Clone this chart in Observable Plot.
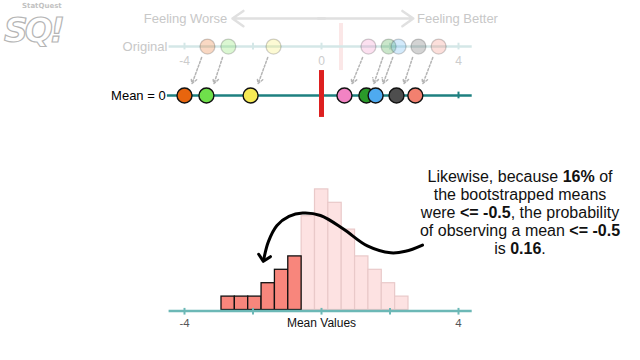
<!DOCTYPE html>
<html>
<head>
<meta charset="utf-8">
<script src="https://cdn.jsdelivr.net/npm/d3@7"></script>
<script src="https://cdn.jsdelivr.net/npm/@observablehq/plot@0.6"></script>
<style>
  html, body { margin: 0; padding: 0; background: #fff; }
  #wrap { position: relative; width: 640px; height: 360px; overflow: hidden; font-family: "Liberation Sans", Arial, Helvetica, sans-serif; }
  #note { position: absolute; left: 400px; top: 168px; width: 240px; text-align: center; font-size: 16px; line-height: 18px; color: #111; white-space: nowrap; }
  #logo .big { position: absolute; left: 4px; top: 14px; font: italic 900 33px/1 "DejaVu Sans", sans-serif; color: #fff; -webkit-text-stroke: 1.2px #b5b5b5; letter-spacing: -3px; }
  #logo .small { position: absolute; left: 22px; top: 3px; font: bold 7px/1 "DejaVu Sans", sans-serif; color: #c2c2c2; }
</style>
</head>
<body>
<div id="wrap">
  <div id="chart"></div>
  <div id="logo"><span class="small">StatQuest</span><span class="big">SQ!</span></div>
  <div id="note">Likewise, because <b>16%</b> of<br>the bootstrapped means<br>were <b>&lt;= -0.5</b>, the probability<br>of observing a mean <b>&lt;= -0.5</b><br>is <b>0.16</b>.</div>
</div>
<script>
// ---- data ----
const pointColors = ["#e8650e", "#6fe04b", "#f6ea55", "#f283c3", "#2a9a2a", "#4eaaf0", "#4e4e4e", "#f2806f"];
const originalValues = [-3.33, -2.72, -1.40, 1.37, 1.96, 2.25, 2.83, 3.42];
const shiftedValues  = [-4.00, -3.36, -2.07, 0.67, 1.31, 1.58, 2.19, 2.74];
const originalMean = 0.57;
const axisTicks = [-4, -2, 0, 2, 4];
const tickLabels = [-4, 0, 4];
const binStart = -2.92;
const binWidth = 0.39;
const binCounts = [1, 1, 1, 2, 3, 4, 7, 9, 8, 6, 4, 3, 2, 1];
const redBins = 6;
const headerLabels = ["Feeling Worse", "Feeling Better"];
const headerLabelX = [-3.97, 3.97];
// annotation arrow path (x in mean units, y in histogram counts)
const curveX = [2.95, 2.45, 2.02, 1.34, 0.64, -0.03, -0.55, -0.95, -1.30, -1.55, -1.68];
const curveY = [4.85, 4.38, 4.27, 4.78, 6.04, 7.05, 7.23, 6.98, 6.30, 5.10, 3.85];

// ---- layout rows (in count units of the y scale) ----
const ROW_HEADER = 21.75, ROW_ORIG = 19.66, ROW_ORIG_LABEL = 18.55;
const ROW_MEAN = 16.01, ROW_AXIS = -0.08, ROW_AXIS_LABEL = -1.0;

const bins = binCounts.map((c, i) => ({
  x1: binStart + i * binWidth, x2: binStart + (i + 1) * binWidth, count: c, red: i < redBins
}));
const pts = originalValues.map((v, i) => ({orig: v, shifted: shiftedValues[i], color: pointColors[i]}));
const curve = curveX.map((x, i) => ({x, y: curveY[i]}));
const ticksRows = (row, up, down) => axisTicks.map(t => ({x: t, y1: row - down, y2: row + up}));

const chart = Plot.plot({
  width: 640, height: 360,
  marginTop: 0, marginRight: 0, marginBottom: 0, marginLeft: 0,
  x: {domain: [-4, 4], range: [184, 458], axis: null},
  y: {domain: [0, 10], range: [309.5, 175.5], axis: null},
  style: {fontFamily: "'Liberation Sans', Arial, Helvetica, sans-serif", background: "transparent"},
  marks: [
    // header
    Plot.text(headerLabels, {x: (d, i) => headerLabelX[i], y: ROW_HEADER, text: d => d, fill: "#c8c8c8", fontSize: 13}),
    Plot.arrow([{a: 0.1, b: -2.6}, {a: -0.1, b: 2.68}], {x1: "a", x2: "b", y1: ROW_HEADER, y2: ROW_HEADER, stroke: "#e0e0e0", strokeWidth: 2.5, headLength: 8, headAngle: 70}),
    // original mean marker (faded)
    Plot.ruleX([originalMean], {y1: 17.87, y2: 21.38, stroke: "#fbe7e7", strokeWidth: 4}),
    // original line
    Plot.ruleY([ROW_ORIG], {x1: -4.45, x2: 4.4, stroke: "#d4e7e7", strokeWidth: 2.5}),
    Plot.ruleX(ticksRows(ROW_ORIG, 0.25, 0.25), {x: "x", y1: "y1", y2: "y2", stroke: "#d4e7e7", strokeWidth: 2}),
    Plot.text(tickLabels, {x: d => d, y: ROW_ORIG_LABEL, text: d => String(d), fill: "#cccccc", fontSize: 12}),
    Plot.text(["Original"], {x: -4.5, y: ROW_ORIG, text: d => d, textAnchor: "end", fill: "#c8c8c8", fontSize: 13}),
    Plot.dot(pts, {x: "orig", y: ROW_ORIG, r: 7.5, fill: "color", fillOpacity: 0.25, stroke: "#000", strokeOpacity: 0.18, strokeWidth: 1.3}),
    // dotted shift arrows
    Plot.arrow(pts, {x1: d => d.orig - 0.17, y1: 18.84, x2: d => d.shifted + 0.22, y2: 16.9, stroke: "#b5b5b5", strokeWidth: 1.5, strokeDasharray: "2,2", headLength: 6}),
    // mean = 0 line
    Plot.ruleY([ROW_MEAN], {x1: -4.5, x2: 4.4, stroke: "#1e8080", strokeWidth: 2.5}),
    Plot.ruleX(ticksRows(ROW_MEAN, 0.25, 0.25), {x: "x", y1: "y1", y2: "y2", stroke: "#1e8080", strokeWidth: 2}),
    Plot.ruleX([0], {y1: 14.37, y2: 17.87, stroke: "#dd2020", strokeWidth: 5}),
    Plot.dot(pts, {x: "shifted", y: ROW_MEAN, r: 7.5, fill: "color", stroke: "#111", strokeWidth: 1.4}),
    Plot.text(["Mean = 0"], {x: -4.55, y: ROW_MEAN, text: d => d, textAnchor: "end", fill: "#000", fontSize: 13}),
    // histogram
    Plot.rectY(bins.filter(d => !d.red), {x1: "x1", x2: "x2", y: "count", fill: "#fde2e2", stroke: "#e9c9c9", strokeWidth: 1.2}),
    Plot.rectY(bins.filter(d => d.red), {x1: "x1", x2: "x2", y: "count", fill: "#f8867c", stroke: "#111", strokeWidth: 1.3}),
    Plot.ruleY([ROW_AXIS], {x1: -4.45, x2: 4.4, stroke: "#6cb8b6", strokeWidth: 2.5}),
    Plot.ruleX(ticksRows(ROW_AXIS, 0.2, 0.3), {x: "x", y1: "y1", y2: "y2", stroke: "#6cb8b6", strokeWidth: 2}),
    Plot.text(tickLabels.filter(d => d !== 0), {x: d => d, y: ROW_AXIS_LABEL, text: d => String(d), fill: "#555", fontSize: 11.5}),
    Plot.text(["Mean Values"], {x: 0, y: ROW_AXIS_LABEL, text: d => d, fill: "#111", fontSize: 12}),
    // curved annotation arrow
    Plot.line(curve, {x: "x", y: "y", curve: "catmull-rom", stroke: "#000", strokeWidth: 3, markerEnd: "arrow"})
  ]
});
document.getElementById("chart").appendChild(chart);
</script>
</body>
</html>
